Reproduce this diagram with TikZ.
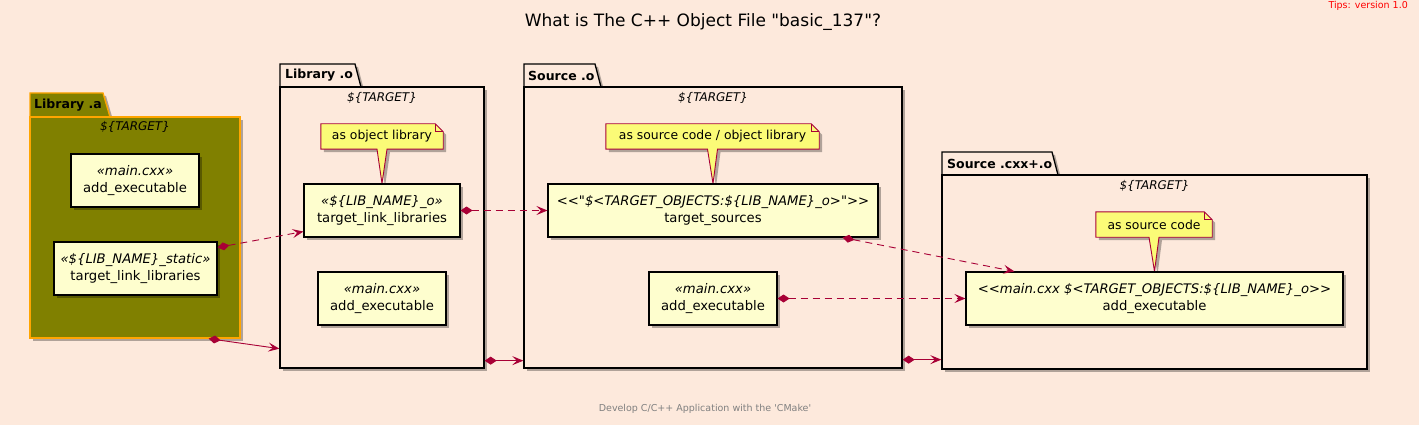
\documentclass[tikz,border=0pt]{standalone}
\usepackage{fontspec}
\newfontfamily\uf{DejaVu Sans}
\usetikzlibrary{arrows.meta,shadows,calc}
\definecolor{bgc}{RGB}{253,233,220}
\definecolor{nodefill}{HTML}{FEFECE}
\definecolor{notefill}{HTML}{FBFB77}
\definecolor{crim}{HTML}{A80036}
\definecolor{olivec}{HTML}{808000}
\definecolor{orangec}{HTML}{FFA500}
\pgfdeclarelayer{bgl}
\pgfdeclarelayer{back}
\pgfdeclarelayer{mid}
\pgfsetlayers{bgl,back,mid,main}
\tikzset{
  shad/.style={drop shadow={shadow xshift=3pt,shadow yshift=-3pt,opacity=0.3,fill=black}},
  pkgbody/.style={draw=black,line width=1.3pt,fill=bgc,inner sep=0pt,shad},
  pkgtab/.style={draw=black,line width=1.3pt,fill=bgc,shad},
  pkgtitle/.style={font=\uf\bfseries\fontsize{12.5}{15}\selectfont,anchor=west,inner sep=0pt},
  pkgstereo/.style={font=\uf\itshape\fontsize{12}{14}\selectfont,inner sep=0pt},
  box/.style={draw=black,line width=1.1pt,fill=nodefill,inner sep=0pt,minimum height=53pt,align=center,font=\uf\fontsize{13.2}{17}\selectfont,shad},
  note/.style={inner sep=0pt,minimum height=25pt,font=\uf\fontsize{12.4}{15}\selectfont},
  noteline/.style={draw=crim,line width=0.9pt,fill=notefill,shad},
  link/.style={draw=crim,line width=0.9pt,{Diamond[length=12pt,width=8pt]}-{Stealth[length=11pt,width=9pt,inset=4.5pt]}},
  dashlink/.style={link,dash pattern=on 7pt off 5pt},
}
\begin{document}
\begin{tikzpicture}[x=1pt,y=-1pt]
\useasboundingbox (0,0) rectangle (1419,425);
\begin{pgfonlayer}{bgl}
\fill[bgc] (0,0) rectangle (1419,425);
\end{pgfonlayer}

% titles
\node[font=\uf\fontsize{17}{20}\selectfont,inner sep=0pt] (title) at (703,22) {What is The C++ Object File "basic\_137"?};
\node[font=\uf\fontsize{9.5}{11}\selectfont,text=red,anchor=east,inner sep=0pt] (tips) at (1408,6) {Tips: version 1.0};
\node[font=\uf\fontsize{9.5}{11}\selectfont,text=gray,inner sep=0pt] (foot) at (705,409) {Develop C/C++ Application with the 'CMake'};

% packages
\begin{pgfonlayer}{back}
  % Library .a
  \path[pkgtab,fill=olivec,draw=orangec] (30,117) -- (30,93) -- (103,93) -- (110,117) -- cycle;
  \node[pkgbody,fill=olivec,draw=orangec,minimum width=210pt,minimum height=221pt] (pA) at (135,227.5) {};
  % Library .o
  \path[pkgtab] (280,87) -- (280,64) -- (355,64) -- (361,87) -- cycle;
  \node[pkgbody,minimum width=204pt,minimum height=281pt] (pLo) at (382,227.5) {};
  % Source .o
  \path[pkgtab] (524,87) -- (524,64) -- (595,64) -- (601,87) -- cycle;
  \node[pkgbody,minimum width=378pt,minimum height=281pt] (pSo) at (713,227.5) {};
  % Source .cxx+.o
  \path[pkgtab] (942,175) -- (942,152) -- (1052,152) -- (1058,175) -- cycle;
  \node[pkgbody,minimum width=425pt,minimum height=194pt] (pCx) at (1154.5,272) {};
\end{pgfonlayer}

\node[pkgtitle] (tA) at (34,105) {Library .a};
\node[pkgtitle] (tLo) at (285,75.5) {Library .o};
\node[pkgtitle] (tSo) at (528,75.5) {Source .o};
\node[pkgtitle] (tCx) at (947,163.5) {Source .cxx+.o};

\node[pkgstereo] (sA) at (135,127) {\$\{TARGET\}};
\node[pkgstereo] (sLo) at (382,98) {\$\{TARGET\}};
\node[pkgstereo] (sSo) at (713,98) {\$\{TARGET\}};
\node[pkgstereo] (sCx) at (1154.5,186) {\$\{TARGET\}};

% boxes
\node[box,minimum width=128pt] (aeA) at (135,180.5) {{\itshape «main.cxx»}\\add\_executable};
\node[box,minimum width=163pt] (tllS) at (135.5,268.5) {{\itshape «\$\{LIB\_NAME\}\_static»}\\target\_link\_libraries};
\node[box,minimum width=156pt] (tllO) at (382,210.5) {{\itshape «\$\{LIB\_NAME\}\_o»}\\target\_link\_libraries};
\node[box,minimum width=128pt] (aeO) at (382,298.5) {{\itshape «main.cxx»}\\add\_executable};
\node[box,minimum width=330pt] (ts) at (713,210.5) {{\itshape <<"\$<TARGET\_OBJECTS:\$\{LIB\_NAME\}\_o>">>}\\target\_sources};
\node[box,minimum width=128pt] (aeS) at (713,298.5) {{\itshape «main.cxx»}\\add\_executable};
\node[box,minimum width=377pt] (cx) at (1154.5,298.5) {{\itshape <<main.cxx \$<TARGET\_OBJECTS:\$\{LIB\_NAME\}\_o>>}\\add\_executable};

% notes
\node[note,minimum width=122pt] (n1) at (382,136.5) {as object library};
\node[note,minimum width=213pt] (n2) at (712.5,136.5) {as source code / object library};
\node[note,minimum width=116pt] (n3) at (1154,224.5) {as source code};

\begin{pgfonlayer}{mid}
  \path[noteline] (n1.north west) -- ([xshift=-8pt]n1.north east) -- ([yshift=-8pt]n1.north east) -- (n1.south east) -- ([xshift=5pt]n1.south) -- (tllO.north) -- ([xshift=-5pt]n1.south) -- (n1.south west) -- cycle;
  \draw[crim,line width=0.9pt] ([xshift=-8pt]n1.north east) |- ([yshift=-8pt]n1.north east);
  \path[noteline] (n2.north west) -- ([xshift=-8pt]n2.north east) -- ([yshift=-8pt]n2.north east) -- (n2.south east) -- ([xshift=5pt]n2.south) -- (ts.north) -- ([xshift=-5pt]n2.south) -- (n2.south west) -- cycle;
  \draw[crim,line width=0.9pt] ([xshift=-8pt]n2.north east) |- ([yshift=-8pt]n2.north east);
  \path[noteline] (n3.north west) -- ([xshift=-8pt]n3.north east) -- ([yshift=-8pt]n3.north east) -- (n3.south east) -- ([xshift=5pt]n3.south) -- (cx.north) -- ([xshift=-5pt]n3.south) -- (n3.south west) -- cycle;
  \draw[crim,line width=0.9pt] ([xshift=-8pt]n3.north east) |- ([yshift=-8pt]n3.north east);
\end{pgfonlayer}

% links
\draw[link] ([xshift=-32pt]pA.south east) -- ([yshift=20pt]pLo.south west);
\draw[dashlink] ([yshift=-6pt]tllS.north east) -- ([yshift=6pt]tllO.south west);
\draw[dashlink] (tllO.east) -- (ts.west);
\draw[link] ([yshift=8pt]pLo.south east) -- ([yshift=8pt]pSo.south west);
\draw[dashlink] ([xshift=-36pt]ts.south east) -- ([xshift=49pt]cx.north west);
\draw[dashlink] (aeS.east) -- (cx.west);
\draw[link] ([yshift=9pt]pSo.south east) -- ([yshift=10pt]pCx.south west);
\end{tikzpicture}
\end{document}
